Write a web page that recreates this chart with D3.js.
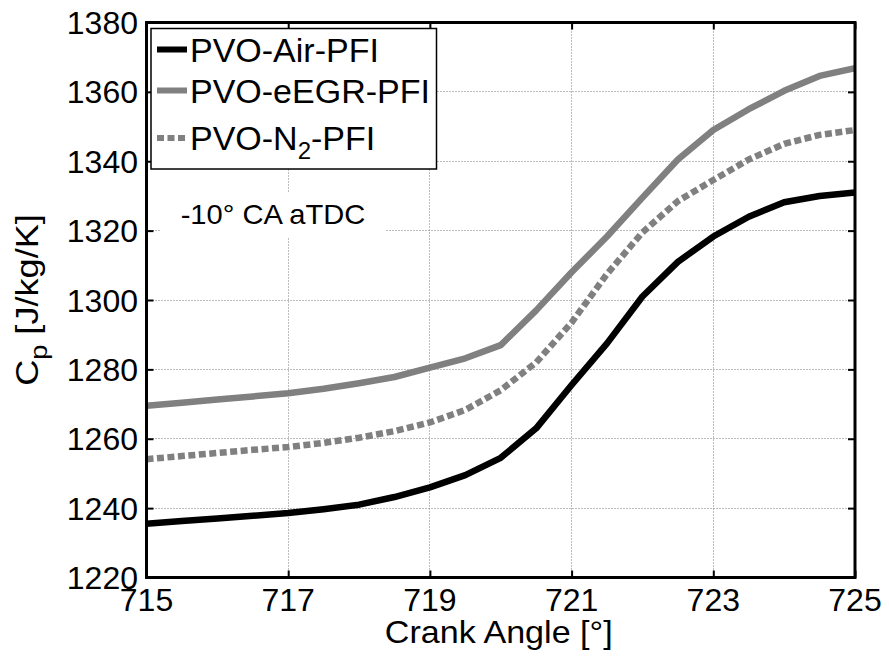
<!DOCTYPE html>
<html>
<head>
<meta charset="utf-8">
<script src="https://cdn.jsdelivr.net/npm/d3@7"></script>
<style>
  html, body { margin: 0; padding: 0; background: #fff; }
  svg { display: block; }
  text { font-family: "Liberation Sans", Arial, sans-serif; fill: #000; }
</style>
</head>
<body>
<svg id="chart" width="889" height="658"></svg>
<script>
// Crank angle samples [deg]
const crankAngle = [715, 715.5, 716, 716.5, 717, 717.5, 718, 718.5, 719, 719.5, 720,
                    720.5, 721, 721.5, 722, 722.5, 723, 723.5, 724, 724.5, 725];

// Specific heat cp [J/kg/K] for each case
const cpAir  = [1235.5, 1236.3, 1237.0, 1237.8, 1238.6, 1239.7, 1241.0, 1243.2, 1246.0, 1249.5, 1254.5,
                1263.0, 1275.5, 1287.5, 1301.0, 1311.0, 1318.3, 1324.0, 1328.2, 1330.0, 1331.0];
const cpEGR  = [1269.5, 1270.4, 1271.3, 1272.2, 1273.1, 1274.4, 1276.0, 1277.8, 1280.5, 1283.2, 1287.0,
                1297.0, 1308.0, 1318.3, 1329.5, 1340.5, 1349.0, 1355.0, 1360.3, 1364.6, 1366.8];
const cpN2   = [1254.1, 1255.0, 1255.9, 1256.8, 1257.6, 1258.8, 1260.3, 1262.2, 1264.7, 1268.3, 1274.0,
                1282.0, 1293.5, 1307.5, 1319.5, 1328.5, 1334.6, 1340.5, 1345.0, 1347.6, 1349.0];

const seriesNames = ["PVO-Air-PFI", "PVO-eEGR-PFI", "PVO-N2-PFI"];
const xTicks = [715, 717, 719, 721, 723, 725];
const yTicks = [1220, 1240, 1260, 1280, 1300, 1320, 1340, 1360, 1380];

const series = [
  { name: seriesNames[0], values: cpAir, color: "#000000", dash: null },
  { name: seriesNames[1], values: cpEGR, color: "#808080", dash: null },
  { name: seriesNames[2], values: cpN2,  color: "#808080", dash: "7,3.5" }
];

const svg = d3.select("#chart");
const L = 146.5, R = 855, T = 22.5, B = 577.5;

const x = d3.scaleLinear().domain([715, 725]).range([L, R]);
const y = d3.scaleLinear().domain([1220, 1380]).range([B, T]);
const crisp = v => Math.round(v - 0.5) + 0.5;

// dotted grid
const grid = svg.append("g").attr("stroke", "#7a7a7a").attr("stroke-width", 1)
  .attr("stroke-dasharray", "1,2");
grid.selectAll("line.gx").data(xTicks.slice(1, -1)).join("line")
  .attr("x1", d => crisp(x(d))).attr("x2", d => crisp(x(d))).attr("y1", T).attr("y2", B);
grid.selectAll("line.gy").data(yTicks.slice(1, -1)).join("line")
  .attr("y1", d => crisp(y(d))).attr("y2", d => crisp(y(d))).attr("x1", L).attr("x2", R);

// data lines
const line = d3.line().x((d, i) => x(crankAngle[i])).y(d => y(d));
svg.append("clipPath").attr("id", "plotclip")
  .append("rect").attr("x", L).attr("y", T).attr("width", R - L).attr("height", B - T);
const lines = svg.append("g").attr("clip-path", "url(#plotclip)");
series.forEach(s => {
  lines.append("path")
    .attr("d", line(s.values))
    .attr("fill", "none")
    .attr("stroke", s.color)
    .attr("stroke-width", 6.5)
    .attr("stroke-linejoin", "round")
    .attr("stroke-dasharray", s.dash);
});

// axes with inward ticks on all four sides
const tickLen = 7;
const axBottom = d3.axisBottom(x).tickValues(xTicks).tickSize(-tickLen).tickFormat("");
const axTop = d3.axisTop(x).tickValues(xTicks).tickSize(-tickLen).tickFormat("");
const axLeft = d3.axisLeft(y).tickValues(yTicks).tickSize(-tickLen).tickFormat("");
const axRight = d3.axisRight(y).tickValues(yTicks).tickSize(-tickLen).tickFormat("");
function styleAxis(g) {
  g.select(".domain").remove();
  g.selectAll(".tick line").attr("stroke", "#000").attr("stroke-width", 2);
}
svg.append("g").attr("transform", `translate(0,${B})`).call(axBottom).call(styleAxis);
svg.append("g").attr("transform", `translate(0,${T})`).call(axTop).call(styleAxis);
svg.append("g").attr("transform", `translate(${L},0)`).call(axLeft).call(styleAxis);
svg.append("g").attr("transform", `translate(${R},0)`).call(axRight).call(styleAxis);

svg.append("rect").attr("x", L).attr("y", T).attr("width", R - L).attr("height", B - T)
  .attr("fill", "none").attr("stroke", "#000").attr("stroke-width", 3);

// tick labels
svg.append("g").selectAll("text").data(xTicks).join("text")
  .attr("x", d => x(d)).attr("y", 611)
  .attr("text-anchor", "middle").attr("font-size", 32)
  .text(d => d);
svg.append("g").selectAll("text").data(yTicks).join("text")
  .attr("x", 138).attr("y", d => y(d)).attr("dy", "0.36em")
  .attr("text-anchor", "end").attr("font-size", 32)
  .text(d => d);

// axis titles
svg.append("text")
  .attr("transform", `translate(${(L + R) / 2 - 2},643) scale(1.1,1)`)
  .attr("text-anchor", "middle").attr("font-size", 31)
  .text("Crank Angle [°]");

const yt = svg.append("text")
  .attr("transform", "translate(38,300) rotate(-90) scale(1.13,1)")
  .attr("text-anchor", "middle").attr("font-size", 32);
yt.append("tspan").text("C");
yt.append("tspan").attr("font-size", 24).attr("dy", 9).text("p");
yt.append("tspan").attr("dy", -9).text(" [J/kg/K]");

// annotation with white background
svg.append("rect").attr("x", 160).attr("y", 193).attr("width", 226).attr("height", 44).attr("fill", "#fff");
svg.append("text").attr("transform", "translate(273,224) scale(1.04,1)")
  .attr("text-anchor", "middle").attr("font-size", 28)
  .text("-10° CA aTDC");

// legend
const lg = svg.append("g");
lg.append("rect").attr("x", 151).attr("y", 28.5).attr("width", 285.5).attr("height", 140.5)
  .attr("fill", "#fff").attr("stroke", "#000").attr("stroke-width", 1.5);
const rowY = [49.5, 90.5, 138];
series.forEach((s, i) => {
  lg.append("line")
    .attr("x1", 157).attr("x2", 187).attr("y1", rowY[i]).attr("y2", rowY[i])
    .attr("stroke", s.color).attr("stroke-width", 6)
    .attr("stroke-dasharray", s.dash);
  const t = lg.append("text").attr("x", 190).attr("y", rowY[i] + 12).attr("font-size", 34);
  if (i === 2) {
    t.append("tspan").text("PVO-N");
    t.append("tspan").attr("font-size", 24).attr("dy", 9).text("2");
    t.append("tspan").attr("dy", -9).text("-PFI");
  } else {
    t.text(s.name);
  }
});
</script>
</body>
</html>
